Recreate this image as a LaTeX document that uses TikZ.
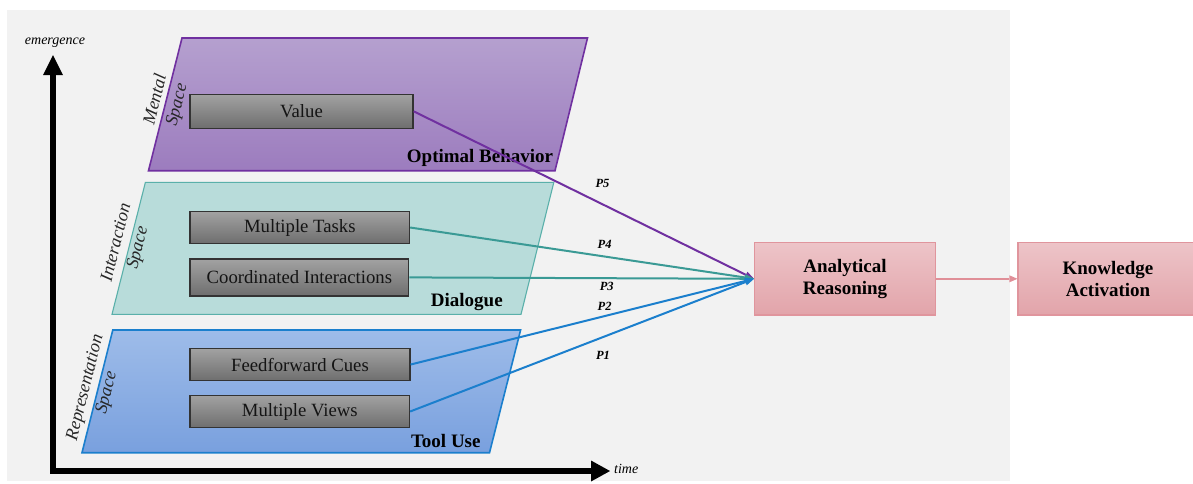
\documentclass[tikz,border=0pt]{standalone}
\usepackage{fontspec}
\setmainfont{Liberation Serif}
\usetikzlibrary{arrows.meta,calc}

% palette
\definecolor{panelgray}{HTML}{F2F2F2}
\definecolor{mentaltop}{HTML}{B5A0CF}
\definecolor{mentalbot}{HTML}{9C7CBE}
\definecolor{mentaledge}{HTML}{7030A0}
\definecolor{interfill}{HTML}{B8DCDA}
\definecolor{interedge}{HTML}{5AB0AA}
\definecolor{interline}{HTML}{3A9A95}
\definecolor{reptop}{HTML}{9EBCE9}
\definecolor{repbot}{HTML}{79A0DE}
\definecolor{repedge}{HTML}{1B7FCD}
\definecolor{boxtop}{HTML}{A2A2A2}
\definecolor{boxbot}{HTML}{6E6E6E}
\definecolor{boxedge}{HTML}{333333}
\definecolor{pinktop}{HTML}{EDC4C8}
\definecolor{pinkbot}{HTML}{E2A4AA}
\definecolor{pinkedge}{HTML}{E0959D}
\definecolor{pinkline}{HTML}{E08F98}

\begin{document}
\begin{tikzpicture}[x=1pt,y=-1pt,
  featbox/.style={draw=boxedge, line width=1.2pt, top color=boxtop, bottom color=boxbot,
    minimum width=220pt, minimum height=32.5pt, inner sep=0pt,
    font=\fontsize{18.7}{22}\selectfont, text=black!92},
  stagebox/.style={draw=pinkedge, line width=1.1pt, top color=pinktop, bottom color=pinkbot,
    minimum height=72.3pt, inner sep=0pt, align=center,
    font=\bfseries\fontsize{19}{22.5}\selectfont},
  spacelabel/.style={rotate=76, align=center, inner sep=0pt,
    font=\itshape\fontsize{18}{22}\selectfont, text=black!85},
  stagelabel/.style={anchor=base, inner sep=0pt, font=\bfseries\fontsize{19}{22}\selectfont},
  plabel/.style={inner sep=0pt, font=\bfseries\itshape\fontsize{12.5}{14}\selectfont},
  axislabel/.style={inner sep=0pt, font=\itshape\fontsize{14}{16}\selectfont},
  axisline/.style={line width=6.5pt, line join=miter,
    {Triangle[length=20pt,width=20pt,line width=0pt]}-{Triangle[length=19pt,width=21pt,line width=0pt]}},
  link/.style={line width=2pt, -{Triangle[length=9pt,width=7pt,line width=0pt]}}
]
\useasboundingbox (0,0) rectangle (1193,483);

% background panel
\fill[panelgray] (7,10) rectangle (1010,481);

% axes
\coordinate (ytip) at (53,55);
\coordinate (origin) at (53,471);
\coordinate (xtip) at (610,471);
\draw[axisline] (ytip) -- (origin) -- (xtip);
\node[axislabel] (emlabel) at (55,43) {emergence};
\node[axislabel, anchor=west] (timelabel) at (614,469) {time};

% mental space
\coordinate (m1) at (182,38);
\coordinate (m2) at (587.5,38);
\coordinate (m3) at (555,170.7);
\coordinate (m4) at (148.5,170.7);
\path[draw=mentaledge, line width=1.6pt, top color=mentaltop, bottom color=mentalbot]
  (m1) -- (m2) -- (m3) -- (m4) -- cycle;

% interaction space
\coordinate (i1) at (145.4,182.3);
\coordinate (i2) at (553.8,182.3);
\coordinate (i3) at (521,314.3);
\coordinate (i4) at (112,314.3);
\path[draw=interedge, line width=1.1pt, fill=interfill]
  (i1) -- (i2) -- (i3) -- (i4) -- cycle;

% representation space
\coordinate (r1) at (112.8,330);
\coordinate (r2) at (520.6,330);
\coordinate (r3) at (489.5,452.7);
\coordinate (r4) at (82,452.7);
\path[draw=repedge, line width=1.6pt, top color=reptop, bottom color=repbot]
  (r1) -- (r2) -- (r3) -- (r4) -- cycle;

% space names along the slanted edges
\node[spacelabel] (mname) at ($(m1)!0.5!(m4)+(1.5,-2)$) {Mental\\Space};
\node[spacelabel] (iname) at ($(i1)!0.5!(i4)+(-1,-3)$) {Interaction\\Space};
\node[spacelabel] (rname) at ($(r1)!0.5!(r4)+(-1,-1)$) {Representation\\Space};

% stage names
\node[stagelabel] (optimal) at (480,162.7) {Optimal Behavior};
\node[stagelabel] (dialogue) at (466.8,306) {Dialogue};
\node[stagelabel] (tooluse) at (445.8,447.7) {Tool Use};

% feature boxes
\node[featbox, minimum width=223pt, minimum height=34pt] (value) at (301.5,111.3) {Value};
\node[featbox, minimum width=219.5pt, minimum height=32pt] (tasks) at (299.8,227.5) {Multiple Tasks};
\node[featbox, minimum width=218.7pt, minimum height=37pt] (coord) at (299.4,277.4) {Coordinated Interactions};
\node[featbox] (ffwd) at (300,364.5) {Feedforward Cues};
\node[featbox, minimum width=219.5pt] (views) at (299.8,411.5) {Multiple Views};

% outcome stages
\node[stagebox, minimum width=181pt] (ar) at (845,278.8) {Analytical\\Reasoning};
\node[stagebox, minimum width=180pt, text width=172pt] (ka) at (1108,278.8) {Knowledge\\Activation};

% pathways
\draw[link, mentaledge] (value.east) -- (ar.west);
\draw[link, interline] (tasks.east) -- (ar.west);
\draw[link, interline] (coord.east) -- (ar.west);
\draw[link, repedge] (ffwd.east) -- (ar.west);
\draw[link, repedge] (views.east) -- (ar.west);
\draw[line width=2pt, pinkline, -{Triangle[length=8pt,width=7pt,line width=0pt]}] (ar.east) -- (ka.west);

% pathway names
\node[plabel] (p5) at (602.5,183.3) {P5};
\node[plabel] (p4) at (604.6,244.3) {P4};
\node[plabel] (p3) at (606.7,286.7) {P3};
\node[plabel] (p2) at (604.6,306.7) {P2};
\node[plabel] (p1) at (603,355) {P1};
\end{tikzpicture}
\end{document}
